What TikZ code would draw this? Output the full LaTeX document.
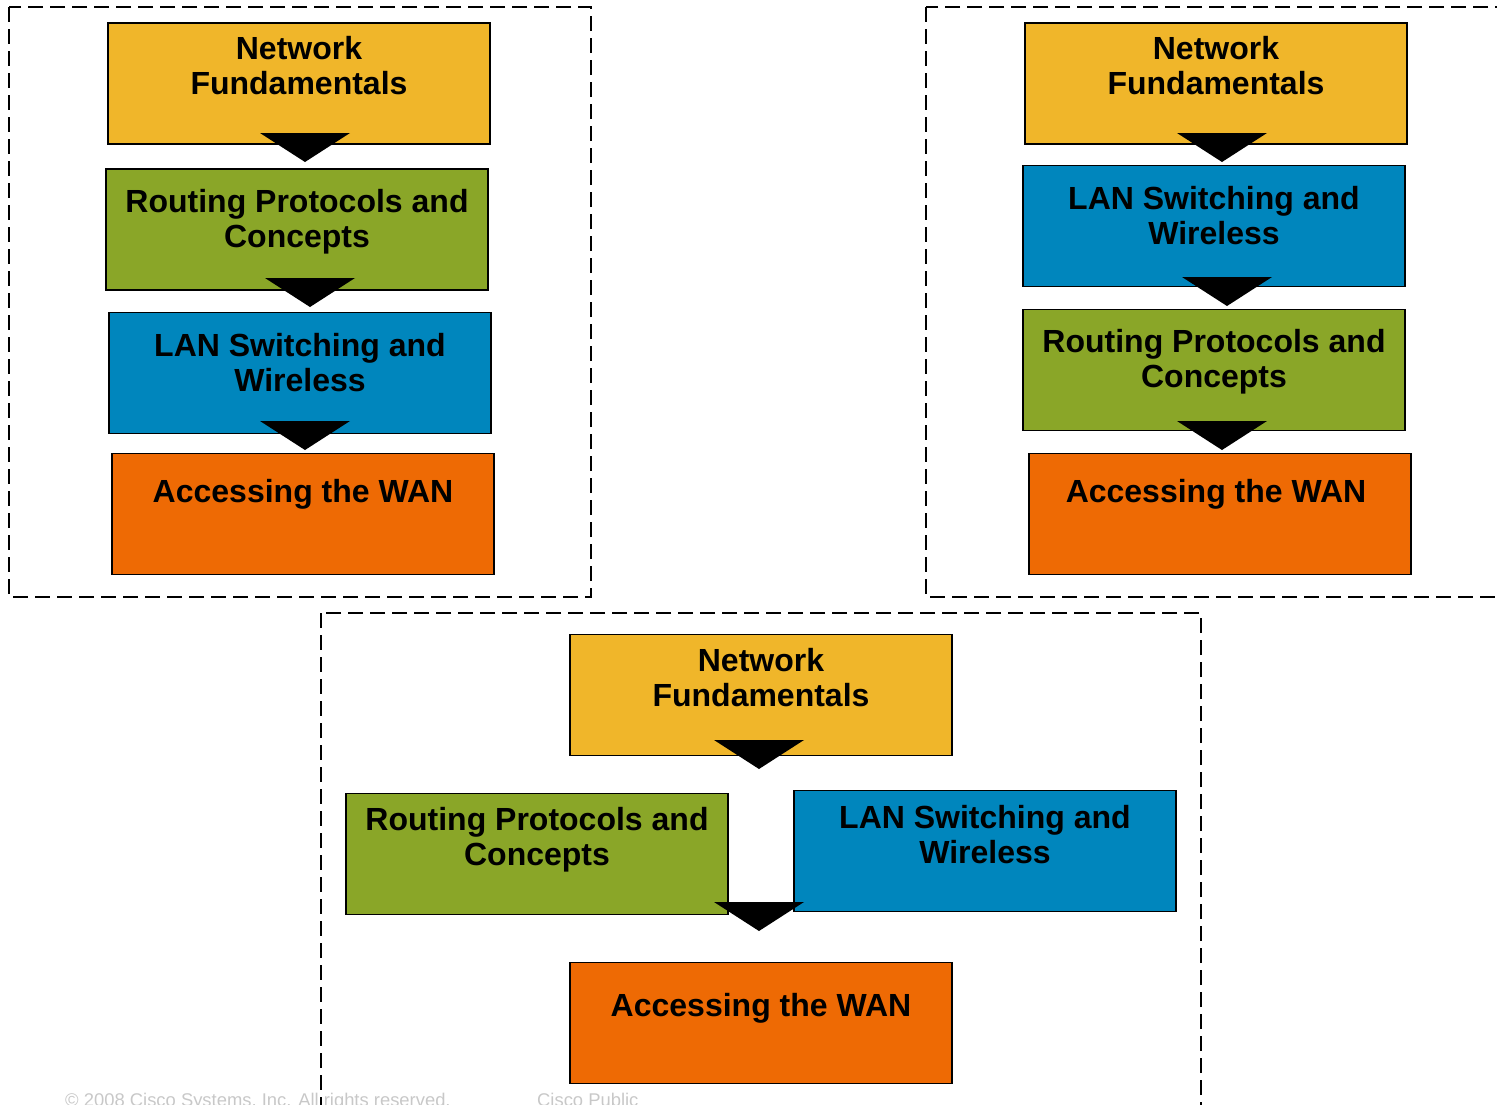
\documentclass[tikz,border=0pt]{standalone}
\usepackage{fontspec}
\setmainfont{Liberation Sans}
\definecolor{nfy}{HTML}{F0B62A}
\definecolor{rpg}{HTML}{8AA628}
\definecolor{lnb}{HTML}{0086BD}
\definecolor{wno}{HTML}{EE6A04}
\definecolor{foot}{HTML}{C8C8C8}
\definecolor{trik}{HTML}{000000}
\begin{document}
\begin{tikzpicture}[x=1pt,y=-1pt,
  box/.style={draw=black, line width=1.8pt, minimum width=382pt, minimum height=121pt, inner sep=0pt},
  lbl/.style={text=black, font=\bfseries\fontsize{32}{35}\selectfont, align=center, inner sep=0pt},
  panel/.style={draw=black, line width=1.8pt, dash pattern=on 15pt off 7pt},
  tri/.style={fill=trik, draw=none},
  foottext/.style={anchor=base west, inner sep=0pt, text=foot, font=\fontsize{18.4}{20}\selectfont}]
\useasboundingbox (0,0) rectangle (1497,1104);
% footer
\node[foottext] (copy) at (65,1106) {© 2008 Cisco Systems, Inc. All rights reserved.};
\node[foottext] (pub) at (537,1106) {Cisco Public};
% panels
\draw[panel] (9,7) rectangle (591,597);
\draw[panel] (926,7) rectangle (1530,597);
\draw[panel] (321,613) rectangle (1201,1140);
% left panel
\node[box, fill=nfy] (lnf) at (299,83.5) {};
\node[box, fill=rpg] (lrp) at (297,229.5) {};
\node[box, fill=lnb] (lln) at (300,373) {};
\node[box, fill=wno] (lwn) at (303,514) {};
\node[lbl] (lnft) at (299,65.5) {Network\\Fundamentals};
\node[lbl] (lrpt) at (297,221.5) {Routing Protocols and\\Concepts};
\node[lbl] (llnt) at (300,362.5) {LAN Switching and\\Wireless};
\node[lbl] (lwnt) at (303,494) {Accessing the WAN};
\path[tri] (260,133) -- (350,133) -- (305,162) -- cycle;
\path[tri] (265,278) -- (355,278) -- (310,307) -- cycle;
\path[tri] (260,421) -- (350,421) -- (305,450) -- cycle;
% right panel
\node[box, fill=nfy] (rnf) at (1216,83.5) {};
\node[box, fill=lnb] (rln) at (1214,226) {};
\node[box, fill=rpg] (rrp) at (1214,370) {};
\node[box, fill=wno] (rwn) at (1220,514) {};
\node[lbl] (rnft) at (1216,65.5) {Network\\Fundamentals};
\node[lbl] (rlnt) at (1214,215.5) {LAN Switching and\\Wireless};
\node[lbl] (rrpt) at (1214,361.5) {Routing Protocols and\\Concepts};
\node[lbl] (rwnt) at (1216,494) {Accessing the WAN};
\path[tri] (1177,133) -- (1267,133) -- (1222,162) -- cycle;
\path[tri] (1182,277) -- (1272,277) -- (1227,306) -- cycle;
\path[tri] (1177,421) -- (1267,421) -- (1222,450) -- cycle;
% bottom panel
\node[box, fill=nfy] (bnf) at (761,695) {};
\node[box, fill=rpg] (brp) at (537,854) {};
\node[box, fill=lnb] (bln) at (985,851) {};
\node[box, fill=wno] (bwn) at (761,1023) {};
\node[lbl] (bnft) at (761,678) {Network\\Fundamentals};
\node[lbl] (brpt) at (537,839.5) {Routing Protocols and\\Concepts};
\node[lbl] (blnt) at (985,835) {LAN Switching and\\Wireless};
\node[lbl] (bwnt) at (761,1008) {Accessing the WAN};
\path[tri] (714,740) -- (804,740) -- (759,769) -- cycle;
\path[tri] (714,902) -- (804,902) -- (759,931) -- cycle;
\end{tikzpicture}
\end{document}
